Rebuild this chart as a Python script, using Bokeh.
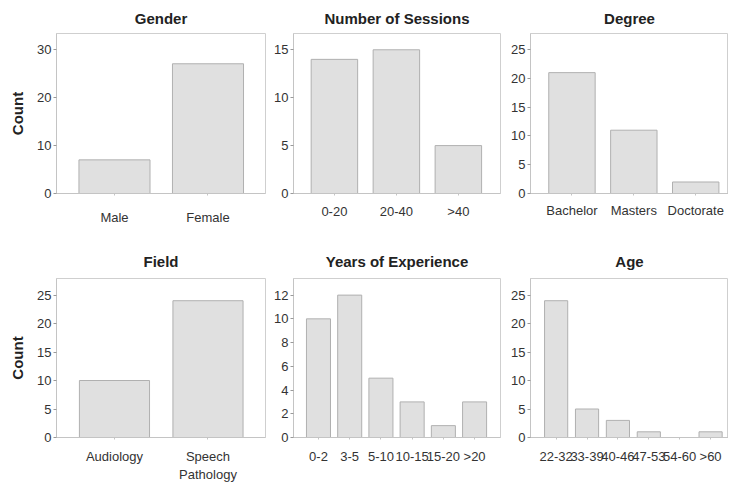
from bokeh.plotting import figure
from bokeh.layouts import column, row
from bokeh.models import Range1d, FixedTicker
from bokeh.embed import file_html
from bokeh.resources import INLINE

# ---- data ----
gender_categories = ["Male", "Female"]
gender_counts = [7, 27]
gender_yticks = [0, 10, 20, 30]

sessions_categories = ["0-20", "20-40", ">40"]
sessions_counts = [14, 15, 5]
sessions_yticks = [0, 5, 10, 15]

degree_categories = ["Bachelor", "Masters", "Doctorate"]
degree_counts = [21, 11, 2]
degree_yticks = [0, 5, 10, 15, 20, 25]

field_categories = ["Audiology", "Speech\nPathology"]
field_counts = [10, 24]
field_yticks = [0, 5, 10, 15, 20, 25]

experience_categories = ["0-2", "3-5", "5-10", "10-15", "15-20", ">20"]
experience_counts = [10, 12, 5, 3, 1, 3]
experience_yticks = [0, 2, 4, 6, 8, 10, 12]

age_categories = ["22-32", "33-39", "40-46", "47-53", "54-60", ">60"]
age_counts = [24, 5, 3, 1, 0, 1]
age_yticks = [0, 5, 10, 15, 20, 25]

FONT = "Liberation Sans"
FILL = "#e0e0e0"
EDGE = "#b0b0b0"
FRAME = "#cfcfcf"
AXIS = "#c4c4c4"
LABEL = "#333333"


def panel(title, cats, counts, yticks, ymax, xr, bar_w, size, borders,
          label_standoff, ylabel=None, title_standoff=10):
    width, height = size
    left, right, top, bottom = borders
    p = figure(width=width, height=height,
               x_range=Range1d(*xr), y_range=Range1d(0, ymax),
               output_backend="svg", toolbar_location=None, tools="",
               min_border_left=left, min_border_right=right,
               min_border_top=top, min_border_bottom=bottom,
               title=title, background_fill_color="white",
               border_fill_color="white")
    idx = list(range(len(cats)))
    p.vbar(x=idx, top=counts, width=bar_w, bottom=0,
           fill_color=FILL, line_color=EDGE, line_width=1)

    p.title.text_font = FONT
    p.title.text_font_size = "15px"
    p.title.text_font_style = "bold"
    p.title.text_color = "#222222"
    p.title.align = "center"
    p.title.standoff = title_standoff

    p.outline_line_color = FRAME
    p.outline_line_width = 1
    p.xgrid.visible = False
    p.ygrid.visible = False

    xa = p.xaxis[0]
    xa.ticker = FixedTicker(ticks=idx)
    xa.major_label_overrides = {i: c for i, c in zip(idx, cats)}
    xa.major_label_text_font = FONT
    xa.major_label_text_font_size = "13px"
    xa.major_label_text_color = LABEL
    xa.major_label_standoff = label_standoff
    xa.axis_line_color = AXIS
    xa.major_tick_line_color = AXIS
    xa.major_tick_out = 2
    xa.major_tick_in = 0
    xa.minor_tick_line_color = None

    ya = p.yaxis[0]
    ya.ticker = FixedTicker(ticks=yticks)
    ya.major_label_text_font = FONT
    ya.major_label_text_font_size = "13px"
    ya.major_label_text_color = LABEL
    ya.major_label_standoff = 2
    ya.axis_line_color = AXIS
    ya.major_tick_line_color = "#999999"
    ya.major_tick_out = 3
    ya.major_tick_in = 0
    ya.minor_tick_line_color = None
    if ylabel:
        ya.axis_label = ylabel
        ya.axis_label_text_font = FONT
        ya.axis_label_text_font_size = "15px"
        ya.axis_label_text_font_style = "bold"
        ya.axis_label_text_color = "#222222"
        ya.axis_label_standoff = 8
    return p


# row 1 (y 0..240), row 2 (y 240..484)
R1H, R2H = 240, 244
p1 = panel("Gender", gender_categories, gender_counts, gender_yticks, 33.3,
           (-0.62, 1.615), 0.76, (268, R1H), (56, 3, 33, 47), 14,
           ylabel="Count", title_standoff=13)
p2 = panel("Number of Sessions", sessions_categories, sessions_counts,
           sessions_yticks, 16.7, (-0.66, 2.68), 0.75, (235, R1H),
           (25, 3, 33, 47), 8, title_standoff=13)
p3 = panel("Degree", degree_categories, degree_counts, degree_yticks, 27.8,
           (-0.67, 2.53), 0.75, (225, R1H), (27, 0, 33, 47), 7,
           title_standoff=13)

p4 = panel("Field", field_categories, field_counts, field_yticks, 27.9,
           (-0.62, 1.615), 0.75, (268, R2H), (56, 3, 38, 45), 9,
           ylabel="Count", title_standoff=17)
p5 = panel("Years of Experience", experience_categories, experience_counts,
           experience_yticks, 13.4, (-0.8, 5.83), 0.77, (235, R2H),
           (25, 3, 38, 45), 9, title_standoff=17)
p6 = panel("Age", age_categories, age_counts, age_yticks, 27.9,
           (-0.83, 5.58), 0.75, (225, R2H), (27, 0, 38, 45), 9,
           title_standoff=17)

layout = column(row(p1, p2, p3), row(p4, p5, p6))

open("out.html", "w").write(file_html(layout, INLINE))
